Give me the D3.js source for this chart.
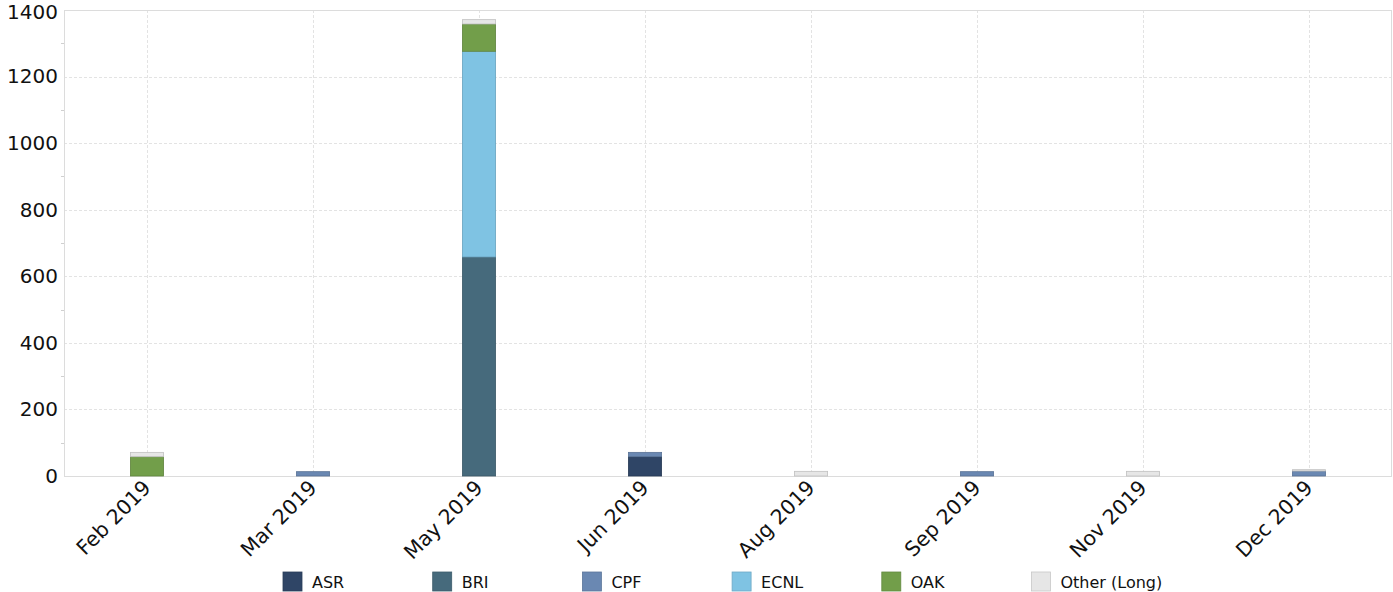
<!DOCTYPE html>
<html>
<head>
<meta charset="utf-8">
<script src="https://cdn.jsdelivr.net/npm/d3@7"></script>
<style>
  html, body { margin: 0; padding: 0; background: #fff; }
  svg { display: block; font-family: "DejaVu Sans", sans-serif; }
</style>
</head>
<body>
<svg id="chart" width="1393" height="592"></svg>
<script>
// Months shown on the x axis
const months = ["Feb 2019", "Mar 2019", "May 2019", "Jun 2019", "Aug 2019", "Sep 2019", "Nov 2019", "Dec 2019"];
// Series, stacked bottom-to-top in this order
const seriesNames = ["ASR", "BRI", "CPF", "ECNL", "OAK", "Other (Long)"];
const seriesColors = ["#2f4566", "#466a7c", "#6a88b2", "#7fc3e3", "#729e4a", "#e6e6e6"];
// Values per series, one per month
const asr   = [0,  0,  0,   58, 0,  0,  0,  0];
const bri   = [0,  0,  658, 0,  0,  0,  0,  0];
const cpf   = [0,  13, 0,   13, 0,  13, 0,  15];
const ecnl  = [0,  0,  618, 0,  0,  0,  0,  0];
const oak   = [58, 0,  82,  0,  0,  0,  0,  0];
const other = [13, 0,  13,  0,  14, 0,  14, 4];
const yTicks = [0, 200, 400, 600, 800, 1000, 1200, 1400];

const seriesValues = [asr, bri, cpf, ecnl, oak, other];
const rows = months.map((m, i) => {
  const r = { month: m };
  seriesNames.forEach((s, j) => r[s] = seriesValues[j][i]);
  return r;
});

const FONT = "'DejaVu Sans', sans-serif";
const svg = d3.select("#chart");
const margin = { left: 64, top: 10, right: 1, bottom: 116 };
const W = 1393, H = 592;
const pw = W - margin.left - margin.right;
const ph = H - margin.top - margin.bottom;

const x = d3.scaleBand().domain(months).range([margin.left, margin.left + pw]).paddingInner(0.8).paddingOuter(0.4);
const y = d3.scaleLinear().domain([0, 1400]).range([margin.top + ph, margin.top]);

const g = svg.append("g");

// Horizontal grid
g.append("g").selectAll("line").data(yTicks.slice(1, -1)).join("line")
  .attr("x1", margin.left).attr("x2", margin.left + pw)
  .attr("y1", d => Math.round(y(d)) + 0.5).attr("y2", d => Math.round(y(d)) + 0.5)
  .attr("stroke", "#e3e3e3").attr("stroke-dasharray", "3,2");

// Vertical grid at each month
g.append("g").selectAll("line").data(months).join("line")
  .attr("x1", d => Math.round(x(d) + x.bandwidth() / 2) + 0.5)
  .attr("x2", d => Math.round(x(d) + x.bandwidth() / 2) + 0.5)
  .attr("y1", margin.top).attr("y2", margin.top + ph)
  .attr("stroke", "#e3e3e3").attr("stroke-dasharray", "3,2");

// Plot frame
g.append("rect")
  .attr("x", margin.left + 0.5).attr("y", margin.top + 0.5)
  .attr("width", pw - 1).attr("height", ph)
  .attr("fill", "none").attr("stroke", "#dcdcdc");

// Stacked bars
const stack = d3.stack().keys(seriesNames)(rows);
g.append("g").selectAll("g").data(stack).join("g")
  .attr("fill", (d, i) => seriesColors[i])
  .attr("stroke", (d, i) => d3.color(seriesColors[i]).darker(0.5))
  .attr("stroke-width", 0.8)
  .selectAll("rect").data(d => d.filter(p => p[1] - p[0] > 0)).join("rect")
  .attr("x", d => x(d.data.month))
  .attr("width", x.bandwidth())
  .attr("y", d => y(d[1]))
  .attr("height", d => y(d[0]) - y(d[1]));

// Y axis
const yAxis = d3.axisLeft(y).tickValues(yTicks).tickSize(0).tickPadding(6).tickFormat(d3.format("d"));
const ya = svg.append("g").attr("transform", `translate(${margin.left},0)`).call(yAxis)
  .attr("font-family", FONT);
ya.select(".domain").remove();
ya.selectAll("text").attr("font-size", 20).attr("fill", "#111")
  .attr("dy", d => d === 1400 ? "0.42em" : "0.32em");
// Minor ticks on the y axis
svg.append("g").selectAll("line").data(d3.range(100, 1400, 200)).join("line")
  .attr("x1", margin.left - 3).attr("x2", margin.left)
  .attr("y1", d => Math.round(y(d)) + 0.5).attr("y2", d => Math.round(y(d)) + 0.5)
  .attr("stroke", "#d0d0d0");

// X axis
const xAxis = d3.axisBottom(x).tickSize(0).tickPadding(0);
const xa = svg.append("g").attr("transform", `translate(0,${margin.top + ph})`).call(xAxis)
  .attr("font-family", FONT);
xa.select(".domain").remove();
xa.selectAll("text")
  .attr("font-size", 20.5).attr("fill", "#111")
  .attr("text-anchor", "end")
  .attr("dy", "0.35em")
  .attr("y", 0)
  .attr("transform", "translate(0,8) rotate(-45)");

// Legend
const legend = svg.append("g").attr("font-family", FONT);
seriesNames.forEach((s, i) => {
  const lx = 283 + i * 149.7;
  legend.append("rect").attr("x", lx).attr("y", 572).attr("width", 19).attr("height", 19)
    .attr("fill", seriesColors[i]).attr("stroke", d3.color(seriesColors[i]).darker(0.4)).attr("stroke-width", 0.8);
  legend.append("text").attr("x", lx + 29).attr("y", 588)
    .attr("font-size", 16).attr("fill", "#111").text(s);
});
</script>
</body>
</html>
